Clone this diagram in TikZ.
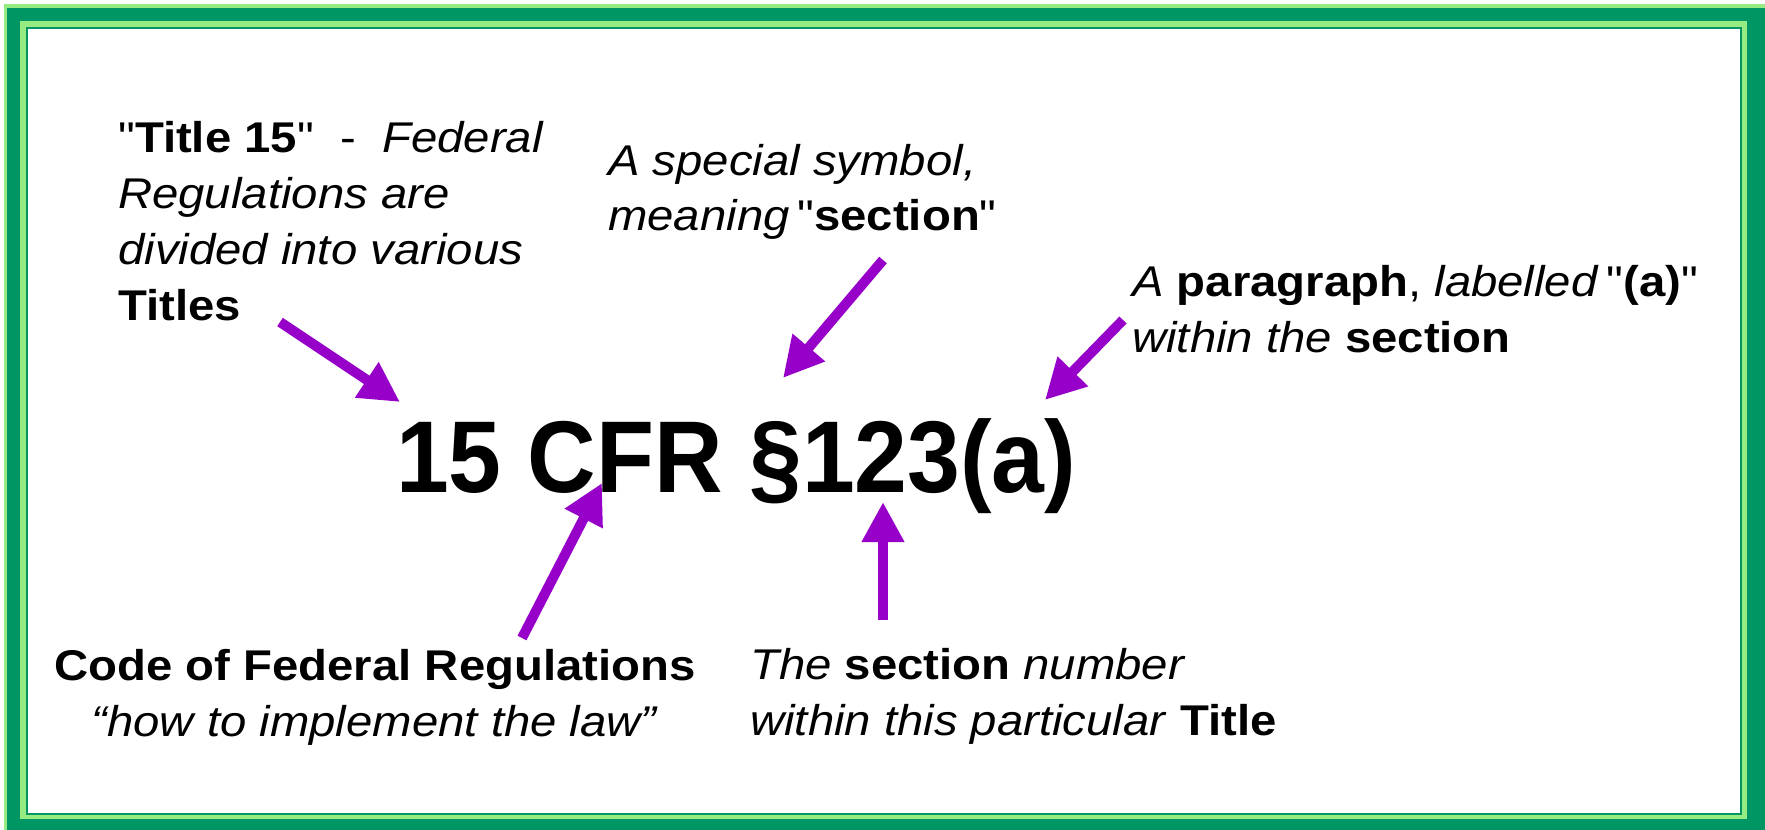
\documentclass[tikz,border=0pt]{standalone}
\usepackage{fontspec}
\setmainfont{Liberation Sans}
\usetikzlibrary{arrows.meta}
\usetikzlibrary{calc}

\definecolor{framegreen}{RGB}{0,150,100}
\definecolor{framelight}{RGB}{150,235,130}
\definecolor{pointerpurple}{RGB}{150,0,200}

\begin{document}
\begin{tikzpicture}[x=1pt,y=-1pt,
  note/.style={inner sep=0pt,xscale=1.1,font=\fontsize{43}{56}\selectfont},
  pointer/.style={pointerpurple,line width=10pt,-{Triangle[length=40pt,width=40pt]}}]

\useasboundingbox (0,0) rectangle (1765,830);
\fill[white] (0,0) rectangle (1765,830);

% frame
\fill[framelight] (4,4) rectangle (1765,830);
\fill[framegreen] (7,8) rectangle (1765,830);
\fill[framelight] (20,21) rectangle (1747,819);
\fill[framegreen] (26,27) rectangle (1742,815);
\fill[white] (28,29) rectangle (1740,813);

\node[inner sep=0pt,xscale=0.93,anchor=base west,font=\fontsize{102}{110}\selectfont\bfseries] (citation) at (396,492) {15 CFR §123(a)};

\node[note,anchor=north west,align=left] (title15) at (118,121)
  {\textquotedbl\textbf{Title 15}\textquotedbl\ \ -\ \ \textit{Federal}\\ \textit{Regulations are}\\ \textit{divided into various}\\ \textbf{Titles}};
\node[note,anchor=north west,align=left,font=\fontsize{43}{55}\selectfont] (symbol) at (608,144)
  {\textit{A special symbol,}\\ \textit{meaning}\,\textquotedbl\textbf{section}\textquotedbl};
\node[note,anchor=north west,align=left] (para) at (1132,265)
  {\textit{A} \textbf{paragraph}, \textit{labelled}\,\textquotedbl\textbf{(a)}\textquotedbl\\ \textit{within the} \textbf{section}};
\node[note,anchor=north,align=center] (cfr) at (375,649)
  {\textbf{Code of Federal Regulations}\\ \textit{“how to implement the law”}};
\node[note,anchor=north west,align=left] (secnum) at (750,648)
  {\textit{The} \textbf{section} \textit{number}\\ \textit{within this particular} \textbf{Title}};

\draw[pointer] ($(title15.north west)+(162,201)$) -- ($(citation.base west)+(4,-90)$);
\draw[pointer] ($(symbol.north west)+(275,116)$) -- ($(citation.base west)+(387,-114)$);
\draw[pointer] ($(para.north west)+(-9,55)$) -- ($(citation.base west)+(649,-92)$);
\draw[pointer] ($(cfr.north)+(147,-11)$) -- ($(citation.base west)+(206,-9)$);
\draw[pointer] ($(secnum.north west)+(133,-28)$) -- ($(citation.base west)+(487,10)$);

\end{tikzpicture}
\end{document}
